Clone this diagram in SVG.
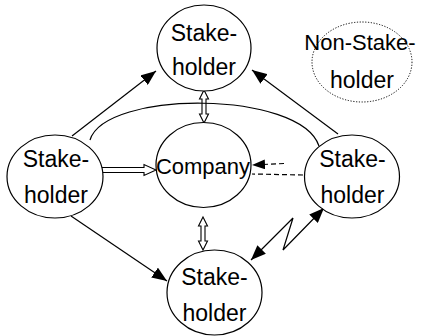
<svg xmlns="http://www.w3.org/2000/svg" width="422" height="336" viewBox="0 0 422 336">
<style>
.node{fill:#fff;stroke:#000;stroke-width:1.2}
.dotted{fill:#fff;stroke:#000;stroke-width:1;stroke-dasharray:1.2 1.6}
.lbl{font-family:"Liberation Sans",Arial,sans-serif;font-size:23px;fill:#000;text-anchor:middle}
.ln{fill:none;stroke:#000;stroke-width:1.2}
.dash{fill:none;stroke:#000;stroke-width:1.2;stroke-dasharray:5 3}
.hollow{fill:#fff;stroke:#000;stroke-width:1.1}
</style>
<defs>
<marker id="ah" markerUnits="userSpaceOnUse" markerWidth="16" markerHeight="12" refX="15" refY="6" orient="auto-start-reverse">
<path d="M0,0 L15,6 L0,12 z" fill="#000"/>
</marker>
<marker id="ahs" markerUnits="userSpaceOnUse" markerWidth="14" markerHeight="10" refX="13" refY="5" orient="auto">
<path d="M0,0 L13,5 L0,10 z" fill="#000"/>
</marker>
</defs>
<g id="connectors">
<polygon class="hollow" points="90,167.5 144,167.5 144,164.5 156,170 144,175.5 144,172.5 90,172.5"/>
<polygon class="hollow" points="204,90 208.5,99 206,99 206,114 208.5,114 204,123 199.5,114 202,114 202,99 199.5,99"/>
<polygon class="hollow" points="203,217 207.5,226 205,226 205,241 207.5,241 203,250 198.5,241 201,241 201,226 198.5,226"/>
<path class="ln" d="M90 140 C105 90, 300 90, 319 146"/>
<line class="ln" x1="72" y1="136" x2="156" y2="71" marker-end="url(#ah)"/>
<line class="ln" x1="338" y1="134" x2="252" y2="70" marker-end="url(#ah)"/>
<line class="ln" x1="71" y1="216" x2="167" y2="281" marker-end="url(#ah)"/>
<path class="ln" d="M251 260 L293 218 L283 250 L324 208" marker-start="url(#ah)" marker-end="url(#ah)"/>
<path class="dash" d="M303 175 L252 174"/>
<path class="dash" d="M284 163.5 L252 165" marker-end="url(#ahs)"/>
</g>
<g id="node-top">
<ellipse class="node" cx="204" cy="48" rx="47" ry="43"/>
<text class="lbl" x="204" y="41">Stake-</text>
<text class="lbl" x="204" y="75">holder</text>
</g>
<g id="node-company">
<ellipse class="node" cx="203.5" cy="165" rx="47.5" ry="42.5"/>
<text class="lbl" x="203" y="174" style="font-size:22px">Company</text>
</g>
<g id="node-left">
<ellipse class="node" cx="55" cy="176.5" rx="48" ry="41.5"/>
<text class="lbl" x="56" y="167">Stake-</text>
<text class="lbl" x="56" y="203">holder</text>
</g>
<g id="node-right">
<ellipse class="node" cx="352" cy="176.5" rx="47.5" ry="41.5"/>
<text class="lbl" x="352.5" y="167">Stake-</text>
<text class="lbl" x="352.5" y="203">holder</text>
</g>
<g id="node-bottom">
<ellipse class="node" cx="214.5" cy="292.5" rx="47.5" ry="42.5"/>
<text class="lbl" x="214.5" y="285">Stake-</text>
<text class="lbl" x="214.5" y="321">holder</text>
</g>
<g id="node-non">
<ellipse class="dotted" cx="362" cy="62" rx="50" ry="40"/>
<text class="lbl" x="360" y="50" style="font-size:22px">Non-Stake-</text>
<text class="lbl" x="362" y="88">holder</text>
</g>
</svg>
